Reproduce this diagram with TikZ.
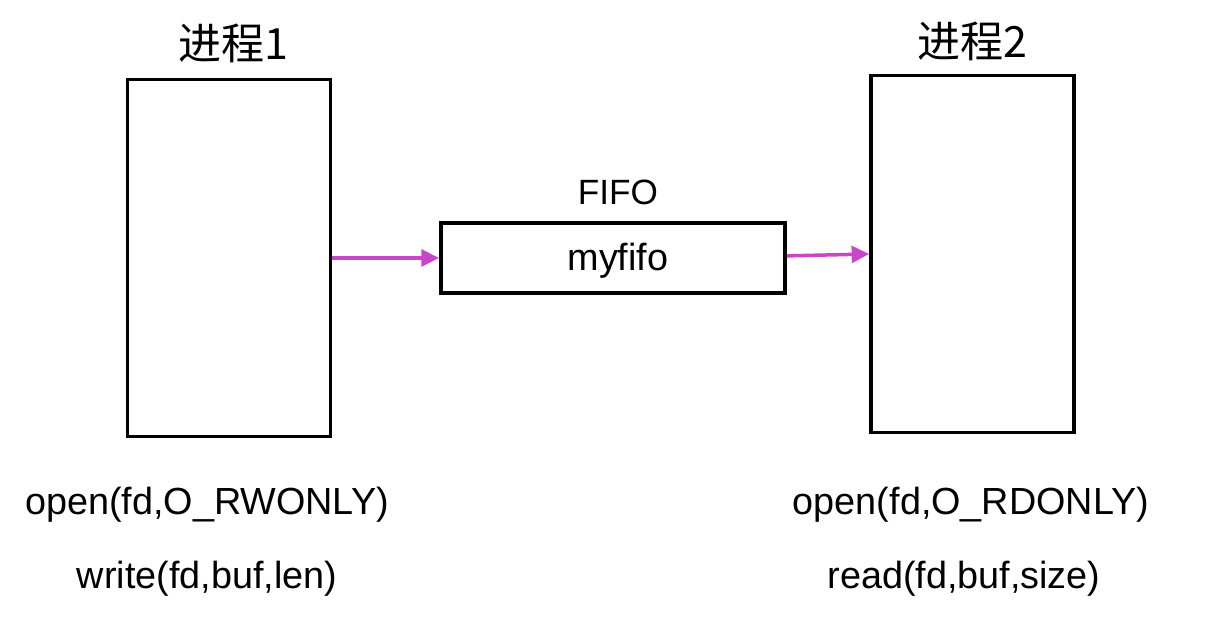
\documentclass[tikz,border=0pt]{standalone}
\usepackage{fontspec}
\setmainfont{Liberation Sans}
\newfontfamily\cjkfont{Noto Sans CJK SC}
\usetikzlibrary{arrows.meta}

\definecolor{pipepink}{RGB}{200,70,200}

\tikzset{
  procbox/.style={draw,line width=2pt,minimum width=115.6pt,minimum height=203pt,inner sep=0pt},
  fifobox/.style={draw,line width=2pt,minimum width=196pt,minimum height=39.7pt,inner sep=0pt},
  flow/.style={pipepink,line width=2pt,-{Triangle[length=10pt,width=9.5pt]}},
  title/.style={font=\cjkfont\fontsize{24.5}{28}\selectfont},
  call/.style={font=\fontsize{21.5}{24}\selectfont}
}

\begin{document}
\begin{tikzpicture}[x=0.02cm,y=-0.02cm]
  \useasboundingbox (0,0) rectangle (1210,622);
  % processes
  \node[procbox] (p1) at (229,258) {};
  \node[procbox] (p2) at (972.5,254) {};
  \node[title] (t1) at (233,43) {进程1};
  \node[title] (t2) at (972,41) {进程2};
  % the named pipe
  \node[fifobox] (fifo) at (613,258) {};
  \node[call] (fifotxt) at (618,261) {myfifo};
  \node[call,font=\fontsize{20}{24}\selectfont] (fifolbl) at (618,192) {FIFO};
  \draw[flow] (p1.east) -- (fifo.west);
  \draw[flow] ([yshift=1.2pt]fifo.east) -- (p2.west);
  % calls
  \node[call] (open1) at (207,505) {open(fd,O\_RWONLY)};
  \node[call] (write1) at (207,579) {write(fd,buf,len)};
  \node[call] (open2) at (971,505) {open(fd,O\_RDONLY)};
  \node[call] (read2) at (964,579) {read(fd,buf,size)};
\end{tikzpicture}
\end{document}
